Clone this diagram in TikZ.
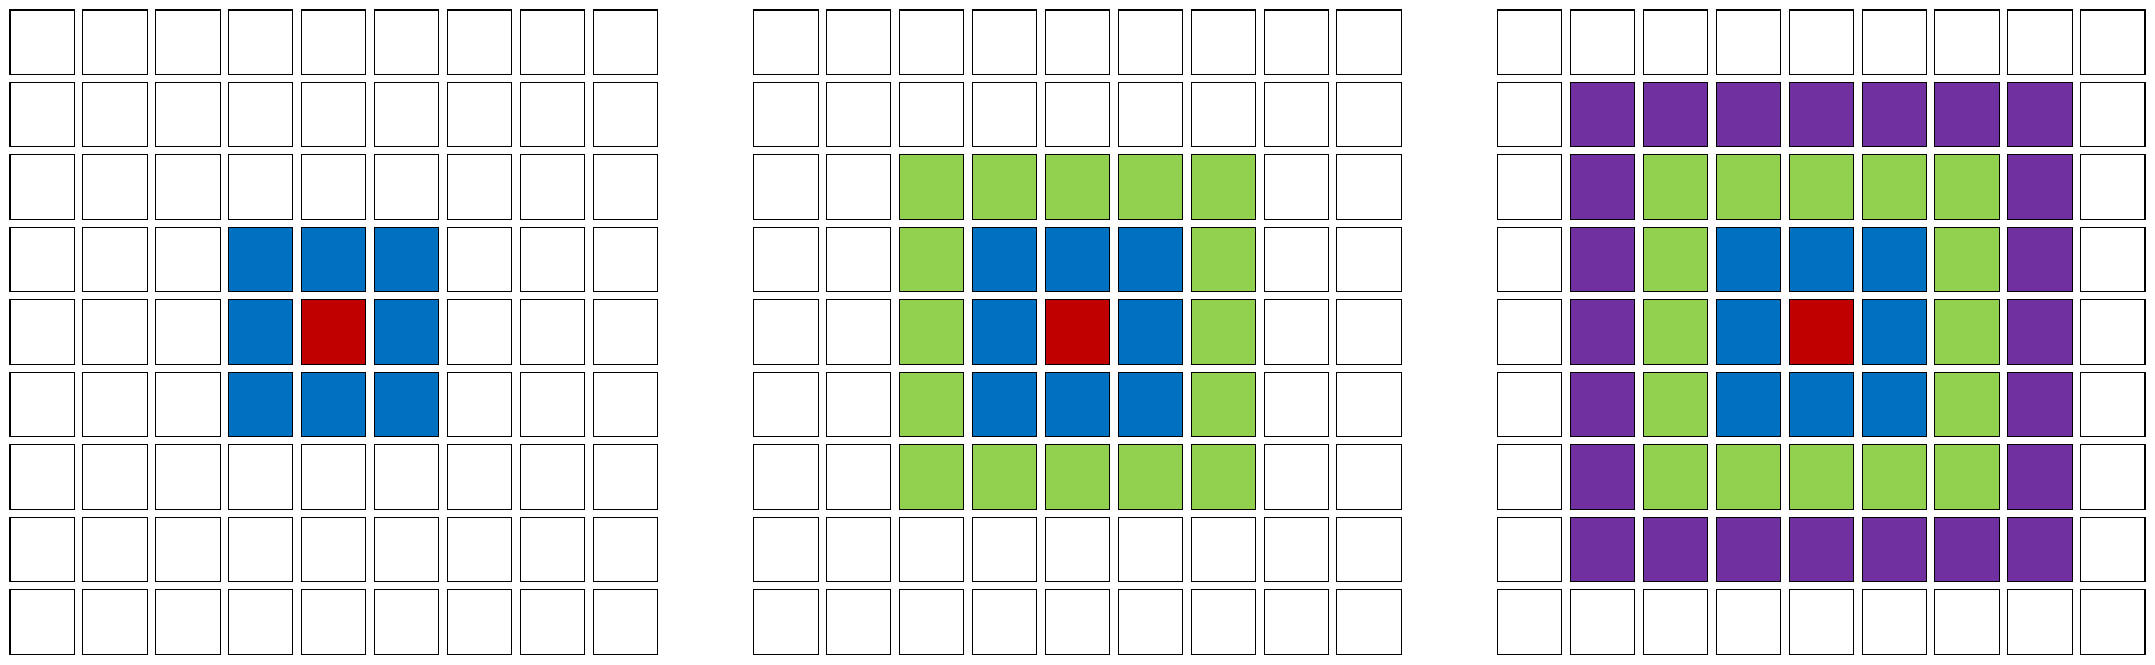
\documentclass[tikz,border=0pt]{standalone}
\usepackage{tikz}
\usetikzlibrary{positioning}
\definecolor{ring0}{HTML}{C00000}
\definecolor{ring1}{HTML}{0070C0}
\definecolor{ring2}{HTML}{92D050}
\definecolor{ring3}{HTML}{7030A0}
\definecolor{ring9}{HTML}{FFFFFF}
\tikzset{
  cell/.style={draw=black,line width=0.4pt,minimum size=0.884cm,inner sep=0pt,outer sep=0pt},
}
\begin{document}
\begin{tikzpicture}

\useasboundingbox (0,0) rectangle (29.64,9.133);

% three grids, rings grow by one each time
\foreach \g in {0,1,2} {
  \foreach \i in {0,...,8} {
    \foreach \j in {0,...,8} {
      \pgfmathtruncatemacro\d{max(abs(\i-4),abs(\j-4))}
      \pgfmathtruncatemacro\k{\d>\g+1 ? 9 : \d}
      \node[cell,fill=ring\k] (g\g-\i-\j) at ({0.5795+10.23*\g+1.0026*\i},{8.5535-0.9968*\j}) {};
    }
  }
}

\end{tikzpicture}
\end{document}
